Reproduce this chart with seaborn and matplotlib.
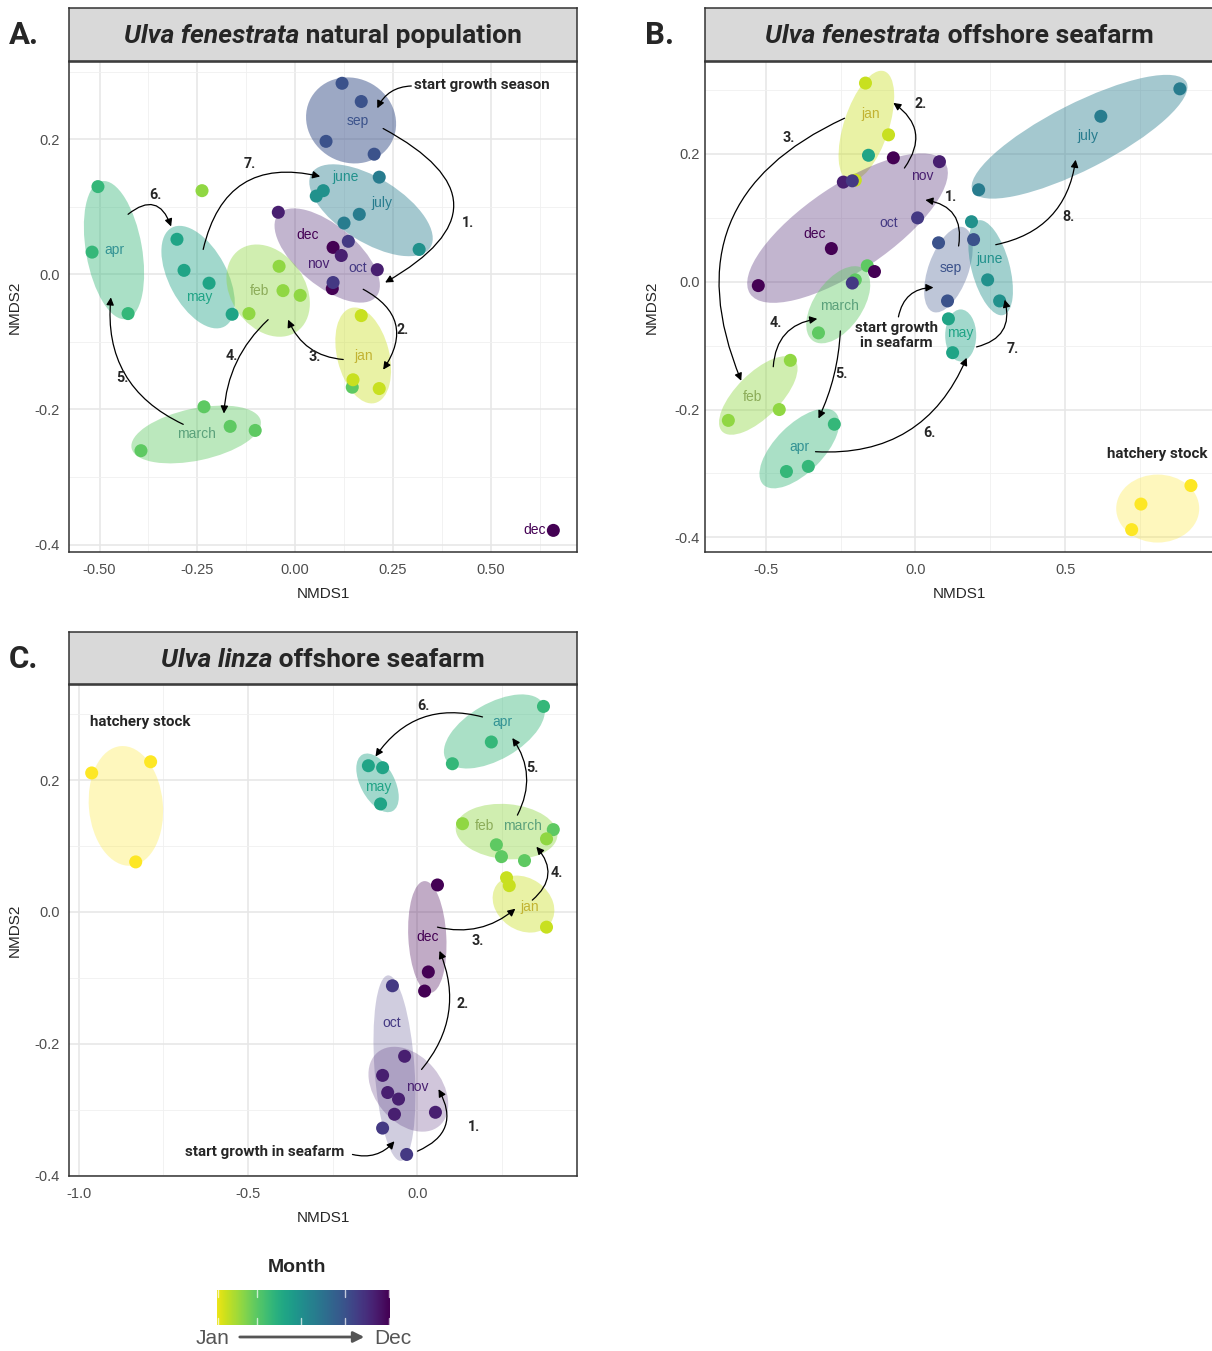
import numpy as np
import pandas as pd
import matplotlib
matplotlib.use("Agg")
import matplotlib.pyplot as plt
import seaborn as sns
from matplotlib.patches import Ellipse
from matplotlib.transforms import ScaledTranslation
from matplotlib.ticker import MultipleLocator, FormatStrFormatter

# ---------------- data ----------------
month_names = ["hatchery", "jan", "feb", "march", "apr", "may", "june",
               "july", "aug", "sep", "oct", "nov", "dec"]

# Panel A: Ulva fenestrata natural population
a_nmds1 = [0.660, 0.097, 0.095,
           -0.233, -0.166, -0.102, -0.394, 0.146,
           -0.041, -0.031, 0.013, -0.118, -0.238,
           -0.504, -0.519, -0.427,
           -0.302, -0.284, -0.220, -0.161,
           0.072, 0.054, 0.317,
           0.215, 0.164, 0.125,
           0.120, 0.169, 0.079, 0.202,
           0.136, 0.097,
           -0.043, 0.118, 0.210,
           0.169, 0.148, 0.215]
a_nmds2 = [-0.379, 0.040, -0.021,
           -0.196, -0.225, -0.231, -0.261, -0.167,
           0.012, -0.024, -0.031, -0.058, 0.124,
           0.130, 0.033, -0.058,
           0.052, 0.006, -0.013, -0.059,
           0.124, 0.116, 0.037,
           0.144, 0.089, 0.076,
           0.283, 0.256, 0.197, 0.178,
           0.049, -0.012,
           0.092, 0.028, 0.007,
           -0.061, -0.156, -0.169]
a_month = [12, 12, 12,
           3, 3, 3, 3, 3,
           2, 2, 2, 2, 2,
           4, 4, 4,
           5, 5, 5, 5,
           6, 6, 6,
           7, 7, 7,
           9, 9, 9, 9,
           10, 10,
           11, 11, 11,
           1, 1, 1]

# Panel B: Ulva fenestrata offshore seafarm
b_nmds1 = [-0.167, -0.090, -0.201,
           -0.161, -0.201, -0.324,
           -0.157, 0.110, 0.124,
           -0.074, -0.281, -0.525, -0.137,
           0.080, -0.241,
           -0.211, 0.007, -0.211,
           0.077, 0.194, 0.107,
           0.187, 0.241, 0.281,
           0.211, 0.619, 0.883,
           -0.418, -0.455, -0.625,
           -0.271, -0.358, -0.431,
           0.920, 0.753, 0.722]
b_nmds2 = [0.311, 0.230, 0.159,
           0.025, 0.003, -0.080,
           0.198, -0.058, -0.111,
           0.194, 0.052, -0.006, 0.016,
           0.188, 0.156,
           0.158, 0.100, -0.002,
           0.061, 0.066, -0.030,
           0.094, 0.003, -0.030,
           0.144, 0.259, 0.302,
           -0.123, -0.200, -0.217,
           -0.223, -0.289, -0.297,
           -0.319, -0.348, -0.388]
b_month = [1, 1, 1,
           3, 3, 3,
           5, 5, 5,
           12, 12, 12, 12,
           11, 11,
           10, 10, 10,
           9, 9, 9,
           6, 6, 6,
           7, 7, 7,
           2, 2, 2,
           4, 4, 4,
           0, 0, 0]

# Panel C: Ulva linza offshore seafarm
c_nmds1 = [-0.962, -0.788, -0.832,
           -0.145, -0.103, -0.109,
           0.372, 0.218, 0.103,
           0.401, 0.233, 0.248, 0.316,
           0.133, 0.381,
           0.263, 0.271, 0.381,
           0.059, 0.032, 0.021,
           -0.074, -0.103, -0.032,
           -0.038, -0.103, -0.088, -0.056, -0.068, 0.053]
c_nmds2 = [0.211, 0.228, 0.076,
           0.222, 0.219, 0.164,
           0.312, 0.258, 0.225,
           0.125, 0.102, 0.084, 0.078,
           0.134, 0.111,
           0.052, 0.040, -0.023,
           0.041, -0.091, -0.120,
           -0.112, -0.328, -0.368,
           -0.219, -0.248, -0.274, -0.284, -0.307, -0.304]
c_month = [0, 0, 0,
           5, 5, 5,
           4, 4, 4,
           3, 3, 3, 3,
           2, 2,
           1, 1, 1,
           12, 12, 12,
           10, 10, 10,
           11, 11, 11, 11, 11, 11]

# ---------------- style ----------------
sns.set_style("white")
plt.rcParams['font.family'] = ['Liberation Sans', 'DejaVu Sans']
plt.rcParams['axes.unicode_minus'] = False

cmap = plt.get_cmap('viridis')


def mcol(m):
    return cmap((12 - m) / 12)


def lcol(m):
    r, g, b, _ = mcol(m)
    if 1 <= m <= 4:
        return (min(1, r * 0.97), min(1, g * 0.80), min(1, b * 1.1 + 0.06))
    return (r, g, b)


pal = {m: mcol(m) for m in range(13)}

W, H = 1212, 1351
fig = plt.figure(figsize=(W / 100, H / 100), dpi=100)


def ax_px(l, t, r, b):
    return fig.add_axes([l / W, 1 - b / H, (r - l) / W, (b - t) / H])


ANN = ['Roboto', 'DejaVu Sans']


def panel(ax, x, y, m, xlim, ylim, xmaj, xfmt, ypad=3.5, ylp=9):
    df = pd.DataFrame({'NMDS1': x, 'NMDS2': y, 'month': m})
    sns.scatterplot(data=df, x='NMDS1', y='NMDS2', hue='month', palette=pal,
                    s=88, linewidth=0, legend=False, ax=ax, zorder=4)
    ax.xaxis.set_major_locator(MultipleLocator(xmaj))
    ax.xaxis.set_minor_locator(MultipleLocator(xmaj / 2))
    ax.yaxis.set_major_locator(MultipleLocator(0.2))
    ax.yaxis.set_minor_locator(MultipleLocator(0.1))
    ax.xaxis.set_major_formatter(FormatStrFormatter(xfmt))
    ax.yaxis.set_major_formatter(FormatStrFormatter('%.1f'))
    ax.grid(which='major', color='#e6e6e6', lw=1.1)
    ax.grid(which='minor', color='#f0f0f0', lw=0.6)
    ax.set_axisbelow(True)
    for s in ax.spines.values():
        s.set_color('#333333')
        s.set_linewidth(1.1)
    ax.tick_params(which='major', length=3, color='#333333', width=0.8,
                   labelsize=10.5, labelcolor='#4d4d4d')
    ax.tick_params(axis='x', which='major', pad=5)
    ax.tick_params(axis='y', which='major', pad=ypad)
    ax.tick_params(which='minor', length=0)
    ax.set_xlabel('NMDS1', fontsize=11, labelpad=7)
    ax.set_ylabel('NMDS2', fontsize=11, labelpad=ylp)
    ax.set_xlim(xlim)
    ax.set_ylim(ylim)


def ell(ax, cx, cy, w, h, ang, m, alpha=0.42):
    tr = fig.dpi_scale_trans + ScaledTranslation(cx, cy, ax.transData)
    e = Ellipse((0, 0), w / 100, h / 100, angle=ang, transform=tr,
                facecolor=mcol(m), alpha=alpha, edgecolor='none', zorder=1)
    ax.add_patch(e)


def lab(ax, x, y, txt, m):
    ax.text(x, y, txt, color=lcol(m), fontsize=10, ha='center', va='center', zorder=5)


def arrow(ax, tail, head, rad):
    ax.annotate('', xy=head, xytext=tail, zorder=6,
                arrowprops=dict(arrowstyle='-|>', connectionstyle=f'arc3,rad={rad}',
                                color='black', lw=0.9, shrinkA=0, shrinkB=0,
                                mutation_scale=11))


def note(ax, x, y, txt, size=10.9, ha='center'):
    ax.text(x, y, txt, fontsize=size, fontweight='bold', family=ANN,
            ha=ha, va='center', zorder=6, linespacing=1.1)


def strip(l, t, r, b, ital, rest):
    sax = ax_px(l, t, r, b)
    sax.set_facecolor('#d9d9d9')
    sax.set_xticks([])
    sax.set_yticks([])
    for s in sax.spines.values():
        s.set_color('#333333')
        s.set_linewidth(1.1)
    rend = fig.canvas.get_renderer()
    t1 = sax.text(0, 0.47, ital, style='italic', fontweight='bold', fontsize=19,
                  family=ANN, ha='left', va='center', transform=sax.transAxes)
    t2 = sax.text(0, 0.47, '\u00a0' + rest, fontweight='bold', fontsize=19,
                  family=ANN, ha='left', va='center', transform=sax.transAxes)
    w1 = t1.get_window_extent(rend).width
    w2 = t2.get_window_extent(rend).width
    aw = sax.get_window_extent(rend).width
    x0 = 0.5 - (w1 + w2) / 2 / aw
    t1.set_x(x0)
    t2.set_x(x0 + w1 / aw)
    return sax


# ---------------- Panel A ----------------
axA = ax_px(69, 62, 577, 552)
panel(axA, a_nmds1, a_nmds2, a_month, (-0.578, 0.7205), (-0.411, 0.3145), 0.25, '%.2f')
ell(axA, 0.143, 0.228, 92, 84, -30, 9, 0.5)
ell(axA, 0.194, 0.095, 140, 64, -32, 7)
ell(axA, 0.082, 0.028, 128, 60, -40, 11, 0.33)
ell(axA, -0.463, 0.036, 140, 56, 100, 4)
ell(axA, -0.248, -0.004, 112, 58, 118, 5)
ell(axA, -0.069, -0.024, 100, 74, -55, 2)
ell(axA, 0.174, -0.120, 98, 52, 104, 1, 0.4)
ell(axA, -0.253, -0.237, 132, 52, 12, 3)
for (x, y, t, m) in [(0.161, 0.227, 'sep', 9), (0.128, 0.144, 'june', 6),
                     (0.223, 0.105, 'july', 7), (0.031, 0.059, 'dec', 12),
                     (0.059, 0.016, 'nov', 11), (0.161, 0.009, 'oct', 10),
                     (-0.463, 0.036, 'apr', 4), (-0.246, -0.033, 'may', 5),
                     (-0.090, -0.025, 'feb', 2), (0.176, -0.121, 'jan', 1),
                     (-0.253, -0.236, 'march', 3), (0.611, -0.379, 'dec', 12)]:
    lab(axA, x, y, t, m)
note(axA, 0.304, 0.281, 'start growth season', ha='left')
arrow(axA, (0.297, 0.279), (0.210, 0.246), 0.3)
arrow(axA, (0.225, 0.216), (0.230, -0.012), -0.9)
arrow(axA, (0.174, -0.022), (0.225, -0.141), -0.55)
arrow(axA, (0.123, -0.126), (-0.018, -0.067), -0.3)
arrow(axA, (-0.069, -0.067), (-0.182, -0.206), 0.2)
arrow(axA, (-0.286, -0.222), (-0.471, -0.034), -0.35)
arrow(axA, (-0.427, 0.089), (-0.317, 0.071), -0.7)
arrow(axA, (-0.235, 0.037), (0.064, 0.145), -0.5)
for (x, y, t) in [(0.442, 0.076, '1.'), (0.276, -0.083, '2.'), (0.049, -0.123, '3.'),
                  (-0.161, -0.121, '4.'), (-0.442, -0.153, '5.'), (-0.358, 0.117, '6.'),
                  (-0.115, 0.163, '7.')]:
    note(axA, x, y, t, size=10.3)
strip(69, 8, 577, 61, 'Ulva fenestrata', 'natural population')

# ---------------- Panel B ----------------
axB = ax_px(705, 62, 1214, 552)
panel(axB, b_nmds1, b_nmds2, b_month, (-0.703, 0.997), (-0.423, 0.344), 0.5, '%.1f',
      ypad=1, ylp=11)
ell(axB, -0.164, 0.244, 115, 45, 72, 1, 0.4)
ell(axB, -0.227, 0.084, 235, 86, 34, 11, 0.33)
ell(axB, -0.258, -0.036, 88, 48, 55, 3)
ell(axB, 0.110, 0.019, 90, 40, 70, 9, 0.33)
ell(axB, 0.251, 0.022, 98, 38, 105, 6)
ell(axB, 0.548, 0.227, 240, 66, 27, 7)
ell(axB, 0.151, -0.084, 52, 31, 90, 5)
ell(axB, -0.525, -0.178, 102, 44, 45, 2)
ell(axB, -0.388, -0.261, 102, 48, 45, 4)
ell(axB, 0.809, -0.355, 83, 68, 0, 0, 0.3)
for (x, y, t, m) in [(-0.151, 0.263, 'jan', 1), (0.023, 0.166, 'nov', 11),
                     (-0.090, 0.092, 'oct', 10), (-0.338, 0.075, 'dec', 12),
                     (0.117, 0.022, 'sep', 9), (0.247, 0.036, 'june', 6),
                     (0.575, 0.228, 'july', 7), (-0.254, -0.038, 'march', 3),
                     (0.151, -0.080, 'may', 5), (-0.545, -0.181, 'feb', 2),
                     (-0.388, -0.259, 'apr', 4)]:
    lab(axB, x, y, t, m)
arrow(axB, (0.144, 0.056), (0.033, 0.128), 0.5)
arrow(axB, (-0.037, 0.178), (-0.074, 0.280), 0.5)
arrow(axB, (-0.237, 0.256), (-0.582, -0.155), 0.48)
arrow(axB, (-0.475, -0.133), (-0.328, -0.058), -0.4)
arrow(axB, (-0.251, -0.077), (-0.324, -0.214), -0.1)
arrow(axB, (-0.334, -0.266), (0.171, -0.119), 0.35)
arrow(axB, (0.204, -0.102), (0.298, -0.028), 0.5)
arrow(axB, (0.268, 0.058), (0.535, 0.191), 0.35)
arrow(axB, (-0.057, -0.055), (0.060, -0.009), -0.4)
note(axB, -0.064, -0.084, 'start growth\nin seafarm')
note(axB, 0.809, -0.270, 'hatchery stock')
for (x, y, t) in [(0.117, 0.133, '1.'), (0.017, 0.278, '2.'), (-0.425, 0.225, '3.'),
                  (-0.465, -0.064, '4.'), (-0.247, -0.145, '5.'), (0.047, -0.236, '6.'),
                  (0.324, -0.106, '7.'), (0.512, 0.102, '8.')]:
    note(axB, x, y, t, size=10.3)
strip(705, 8, 1214, 61, 'Ulva fenestrata', 'offshore seafarm')

# ---------------- Panel C ----------------
axC = ax_px(69, 685, 577, 1176)
panel(axC, c_nmds1, c_nmds2, c_month, (-1.029, 0.471), (-0.4007, 0.3445), 0.5, '%.1f')
ell(axC, -0.861, 0.161, 120, 74, 95, 0, 0.3)
ell(axC, -0.118, 0.196, 64, 34, 118, 5)
ell(axC, 0.227, 0.274, 112, 56, 30, 4)
ell(axC, 0.263, 0.122, 102, 55, -5, 2)
ell(axC, 0.313, 0.012, 66, 52, -35, 1, 0.4)
ell(axC, 0.029, -0.038, 112, 38, 93, 12, 0.33)
ell(axC, -0.068, -0.237, 186, 40, 94, 10, 0.25)
ell(axC, -0.027, -0.269, 96, 66, -50, 11, 0.25)
for (x, y, t, m) in [(-0.115, 0.190, 'may', 5), (0.251, 0.289, 'apr', 4),
                     (0.198, 0.131, 'feb', 2), (0.310, 0.131, 'march', 3),
                     (0.330, 0.008, 'jan', 1), (0.029, -0.038, 'dec', 12),
                     (-0.077, -0.169, 'oct', 10), (0.000, -0.266, 'nov', 11)]:
    lab(axC, x, y, t, m)
arrow(axC, (-0.192, -0.368), (-0.068, -0.348), 0.3)
arrow(axC, (0.000, -0.363), (0.062, -0.269), 0.55)
arrow(axC, (0.012, -0.239), (0.065, -0.059), 0.3)
arrow(axC, (0.059, -0.023), (0.289, 0.005), 0.25)
arrow(axC, (0.339, 0.018), (0.351, 0.099), 0.5)
arrow(axC, (0.295, 0.147), (0.280, 0.264), 0.3)
arrow(axC, (0.192, 0.296), (-0.124, 0.236), 0.35)
note(axC, -0.451, -0.365, 'start growth in seafarm')
note(axC, -0.820, 0.289, 'hatchery stock')
for (x, y, t) in [(0.168, -0.327, '1.'), (0.133, -0.140, '2.'), (0.177, -0.044, '3.'),
                  (0.410, 0.059, '4.'), (0.339, 0.219, '5.'), (0.018, 0.312, '6.')]:
    note(axC, x, y, t, size=10.3)
strip(69, 632, 577, 684, 'Ulva linza', 'offshore seafarm')

# ---------------- panel letters ----------------
for (px, py, t) in [(9, 35, 'A.'), (645, 35, 'B.'), (9, 659, 'C.')]:
    fig.text(px / W, 1 - py / H, t, fontsize=22.5, fontweight='bold', family=ANN,
             ha='left', va='center')

# ---------------- Month colour legend ----------------
fig.text(297 / W, 1 - 1268 / H, 'Month', fontsize=14, fontweight='bold', ha='center', va='center')
lax = ax_px(217, 1290, 390, 1325)
grad = np.linspace(0.03, 1.0, 256)[None, :]
lax.imshow(grad, aspect='auto', cmap='viridis_r', vmin=0, vmax=1, extent=(0, 1, 0, 1))
for xt in [0.006, 0.231, 0.740, 0.994]:
    lax.plot([xt, xt], [0.8, 1], color='white', lw=1, alpha=0.7)
for xt in [0.006, 0.231, 0.486, 0.740, 0.994]:
    lax.plot([xt, xt], [0, 0.2], color='white', lw=1, alpha=0.7)
lax.set_xlim(0, 1)
lax.set_ylim(0, 1)
lax.axis('off')
fig.text(213 / W, 1 - 1338 / H, 'Jan', fontsize=15, color='#555555', ha='center', va='center')
fig.text(393 / W, 1 - 1338 / H, 'Dec', fontsize=15, color='#555555', ha='center', va='center')
fig.add_artist(matplotlib.patches.FancyArrowPatch(
    (237 / W, 1 - 1337 / H), (367 / W, 1 - 1337 / H), transform=fig.transFigure,
    arrowstyle='-|>', mutation_scale=16, color='#555555', lw=2))

fig.savefig('out.png', dpi=100)
